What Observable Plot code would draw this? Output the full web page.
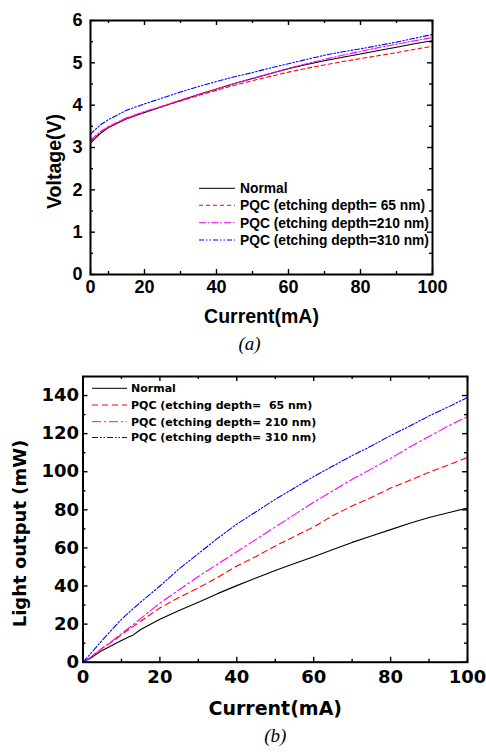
<!DOCTYPE html>
<html><head><meta charset="utf-8">
<script src="https://cdn.jsdelivr.net/npm/d3@7"></script>
<script src="https://cdn.jsdelivr.net/npm/@observablehq/plot@0.6"></script>
<style>
body{margin:0;background:#fff;width:486px;}
svg{display:block;}
svg text{white-space:pre;}
</style></head><body><div id="chart"></div>
<script>
// ---------- shared ----------
const seriesKeys = ["normal", "d65", "d210", "d310"];
const seriesColors = ["#000000", "#ff0000", "#ff00ff", "#0000ff"];
const legendA = ["Normal", "PQC (etching depth= 65 nm)", "PQC (etching depth=210 nm)", "PQC (etching depth=310 nm)"];
const legendB = ["Normal", "PQC (etching depth=  65 nm)", "PQC (etching depth= 210 nm)", "PQC (etching depth= 310 nm)"];

// ---------- (a) Voltage vs Current ----------
const currentA = [5,6,8,10,15,20,25,30,35,40,45,50,55,60,65,70,75,80,85,90,95,100];
const voltNormal = [3.10,3.19,3.35,3.47,3.68,3.83,3.97,4.11,4.25,4.38,4.51,4.63,4.75,4.86,4.96,5.05,5.13,5.21,5.29,5.37,5.45,5.52];
const volt65     = [3.15,3.22,3.37,3.48,3.68,3.83,3.97,4.10,4.23,4.35,4.47,4.58,4.68,4.78,4.87,4.95,5.03,5.10,5.17,5.24,5.32,5.39];
const volt210    = [3.19,3.25,3.39,3.50,3.70,3.85,3.98,4.12,4.25,4.38,4.51,4.63,4.75,4.87,4.98,5.08,5.18,5.27,5.36,5.44,5.52,5.60];
const volt310    = [3.31,3.40,3.55,3.66,3.88,4.03,4.17,4.31,4.44,4.56,4.67,4.77,4.88,4.98,5.08,5.18,5.26,5.33,5.41,5.49,5.58,5.67];
const xTicksA = [5,20,40,60,80,100];
const xTickLabelsA = ["0","20","40","60","80","100"];
const xMinorA = [10,30,50,70,90];
const yTicksA = [0,1,2,3,4,5,6];
const yMinorA = [0.5,1.5,2.5,3.5,4.5,5.5];

// ---------- (b) Light output vs Current ----------
const currentB = [0,2,5,8,10,12,13,15,20,25,30,35,40,45,50,55,60,65,70,75,80,85,90,95,100];
const lightNormal = [0,2.2,6.2,9.3,11.4,13.3,14.2,17.2,22.5,27.2,31.5,36,40.2,44.2,48.1,51.8,55.4,59.2,62.9,66.3,69.6,73,76,78.5,81];
const light65     = [0,2.6,7.3,11.2,14.5,17.3,18.7,21.5,28.5,34,39,44.5,50.5,55.5,61,66,71,77,82,86.5,91.4,95.5,99.7,103.5,107.5];
const light210    = [0,2.6,7.4,11.8,15,18.1,19.6,23,31,38,45,51.5,58,64.5,71,77.5,84,90,96,101.5,107,113,118.5,124,129];
const light310    = [0,4.5,11.5,18.2,22.5,26.2,28,31.5,40,49,57,65,72.5,79,85.5,91.5,97.5,103,108.5,113.5,119,124,129.3,134,139];
const xTicksB = [0,20,40,60,80,100];
const xMinorB = [10,30,50,70,90];
const yTicksB = [0,20,40,60,80,100,120,140];
const yMinorB = [10,30,50,70,90,110,130];

function rows(currents, arrays) {
  const out = [];
  arrays.forEach((arr, k) => arr.forEach((v, i) => out.push({series: seriesKeys[k], current: currents[i], value: v})));
  return out;
}
const dataA = rows(currentA, [voltNormal, volt65, volt210, volt310]);
const dataB = rows(currentB, [lightNormal, light65, light210, light310]);

function tickRules(xMaj, xMin, yMaj, yMin, iw, ih, big, small) {
  const o = {stroke: "black", strokeWidth: 1.4};
  return [
    Plot.ruleX(xMaj, {x: d => d, insetTop: ih - big, ...o}),
    Plot.ruleX(xMaj, {x: d => d, insetBottom: ih - big, ...o}),
    Plot.ruleX(xMin, {x: d => d, insetTop: ih - small, ...o}),
    Plot.ruleX(xMin, {x: d => d, insetBottom: ih - small, ...o}),
    Plot.ruleY(yMaj, {y: d => d, insetRight: iw - big, ...o}),
    Plot.ruleY(yMaj, {y: d => d, insetLeft: iw - big, ...o}),
    Plot.ruleY(yMin, {y: d => d, insetRight: iw - small, ...o}),
    Plot.ruleY(yMin, {y: d => d, insetLeft: iw - small, ...o})
  ];
}

function lineMarks(data, dashes, width) {
  return seriesKeys.map((s, k) => Plot.line(data.filter(d => d.series === s), {
    x: "current", y: "value", stroke: seriesColors[k], strokeWidth: width,
    strokeDasharray: dashes[k]
  }));
}

function addLegend(svg, labels, dashes, x1, x2, xt, ys, font, size) {
  const g = d3.select(svg).append("g").attr("text-anchor", "start");
  labels.forEach((lab, k) => {
    g.append("line").attr("x1", x1).attr("x2", x2).attr("y1", ys[k]).attr("y2", ys[k])
      .attr("stroke", seriesColors[k]).attr("stroke-width", 1)
      .attr("stroke-dasharray", dashes[k] || null);
    g.append("text").attr("x", xt).attr("y", ys[k]).attr("dy", "0.36em")
      .attr("text-anchor", "start")
      .attr("font-family", font).attr("font-size", size).attr("font-weight", "bold")
      .attr("fill", "black").attr("xml:space", "preserve").text(lab);
  });
}

function addYLabel(svg, label, cx, cy, font, size) {
  d3.select(svg).append("text")
    .attr("transform", `translate(${cx},${cy}) rotate(-90)`)
    .attr("text-anchor", "middle").attr("dy", "0.32em")
    .attr("font-family", font).attr("font-size", size).attr("font-weight", "bold")
    .attr("fill", "black").text(label);
}

const container = document.getElementById("chart");

// ----- chart (a) -----
const mA = {top: 20, right: 54, bottom: 91, left: 90};
const WA = 486, HA = 365;
const iwA = WA - mA.left - mA.right, ihA = HA - mA.top - mA.bottom;
const dashesA = [null, "4,3", "7,2,1.5,2", "5,2,1.5,2,1.5,2"];
const fontA = "'Liberation Sans', Arial, sans-serif";
const plotA = Plot.plot({
  width: WA, height: HA,
  marginTop: mA.top, marginRight: mA.right, marginBottom: mA.bottom, marginLeft: mA.left,
  style: {background: "white", fontFamily: fontA, color: "black", overflow: "visible"},
  x: {domain: [5, 100]},
  y: {domain: [0, 6]},
  marks: [
    ...lineMarks(dataA, dashesA, 1.1),
    ...tickRules(xTicksA, xMinorA, yTicksA, yMinorA, iwA, ihA, 5, 3),
    Plot.frame({stroke: "black", strokeWidth: 2}),
    Plot.axisX({ticks: xTicksA, tickSize: 0, tickPadding: 6, label: null,
      tickFormat: d => xTickLabelsA[xTicksA.indexOf(d)],
      fontSize: 18, fontWeight: "bold", fontFamily: fontA}),
    Plot.axisY({ticks: yTicksA, tickSize: 0, tickPadding: 8, label: null,
      tickFormat: d => String(d),
      fontSize: 18, fontWeight: "bold", fontFamily: fontA}),
    Plot.text(["Current(mA)"], {text: d => d, frameAnchor: "bottom", dy: 48,
      fontSize: 19.5, fontWeight: "bold", fontFamily: fontA}),
    Plot.text(["(a)"], {text: d => d, frameAnchor: "bottom", dy: 75, dx: -12,
      fontSize: 19, fontStyle: "italic", fontFamily: "'Liberation Serif', 'Times New Roman', serif"})
  ]
});
addYLabel(plotA, "Voltage(V)", 54.5, 161.5, fontA, 19.5);
addLegend(plotA, legendA, dashesA, 199, 235, 240, [188.3, 205.3, 222.7, 240], fontA, 13.8);
container.appendChild(plotA);

// ----- chart (b) -----
const mB = {top: 11, right: 19, bottom: 92.3, left: 82.5};
const WB = 486, HB = 389;
const iwB = WB - mB.left - mB.right, ihB = HB - mB.top - mB.bottom;
const dashesB = [null, "6,4", "9,3,2,3", "6,2,1.5,2,1.5,2"];
const fontB = "'DejaVu Sans', sans-serif";
const plotB = Plot.plot({
  width: WB, height: HB,
  marginTop: mB.top, marginRight: mB.right, marginBottom: mB.bottom, marginLeft: mB.left,
  style: {background: "white", fontFamily: fontB, color: "black", overflow: "visible"},
  x: {domain: [0, 100]},
  y: {domain: [0, 150]},
  marks: [
    ...lineMarks(dataB, dashesB, 1.1),
    ...tickRules(xTicksB, xMinorB, yTicksB, yMinorB, iwB, ihB, 5, 3),
    Plot.frame({stroke: "black", strokeWidth: 2}),
    Plot.axisX({ticks: xTicksB, tickSize: 0, tickPadding: 8, label: null,
      tickFormat: d => String(d),
      fontSize: 18, fontWeight: "bold", fontFamily: fontB}),
    Plot.axisY({ticks: yTicksB, tickSize: 0, tickPadding: 4, label: null,
      tickFormat: d => String(d),
      fontSize: 18, fontWeight: "bold", fontFamily: fontB}),
    Plot.text(["Current(mA)"], {text: d => d, frameAnchor: "bottom", dy: 53,
      fontSize: 19, fontWeight: "bold", fontFamily: fontB}),
    Plot.text(["(b)"], {text: d => d, frameAnchor: "bottom", dy: 80, dx: 0,
      fontSize: 19, fontStyle: "italic", fontFamily: "'Liberation Serif', 'Times New Roman', serif"})
  ]
});
addYLabel(plotB, "Light output (mW)", 20.5, 533.5 - 365, fontB, 18);
addLegend(plotB, legendB, dashesB, 92, 127, 131, [23.3, 40, 56.7, 72.5], fontB, 11);
container.appendChild(plotB);
</script>
</body></html>
